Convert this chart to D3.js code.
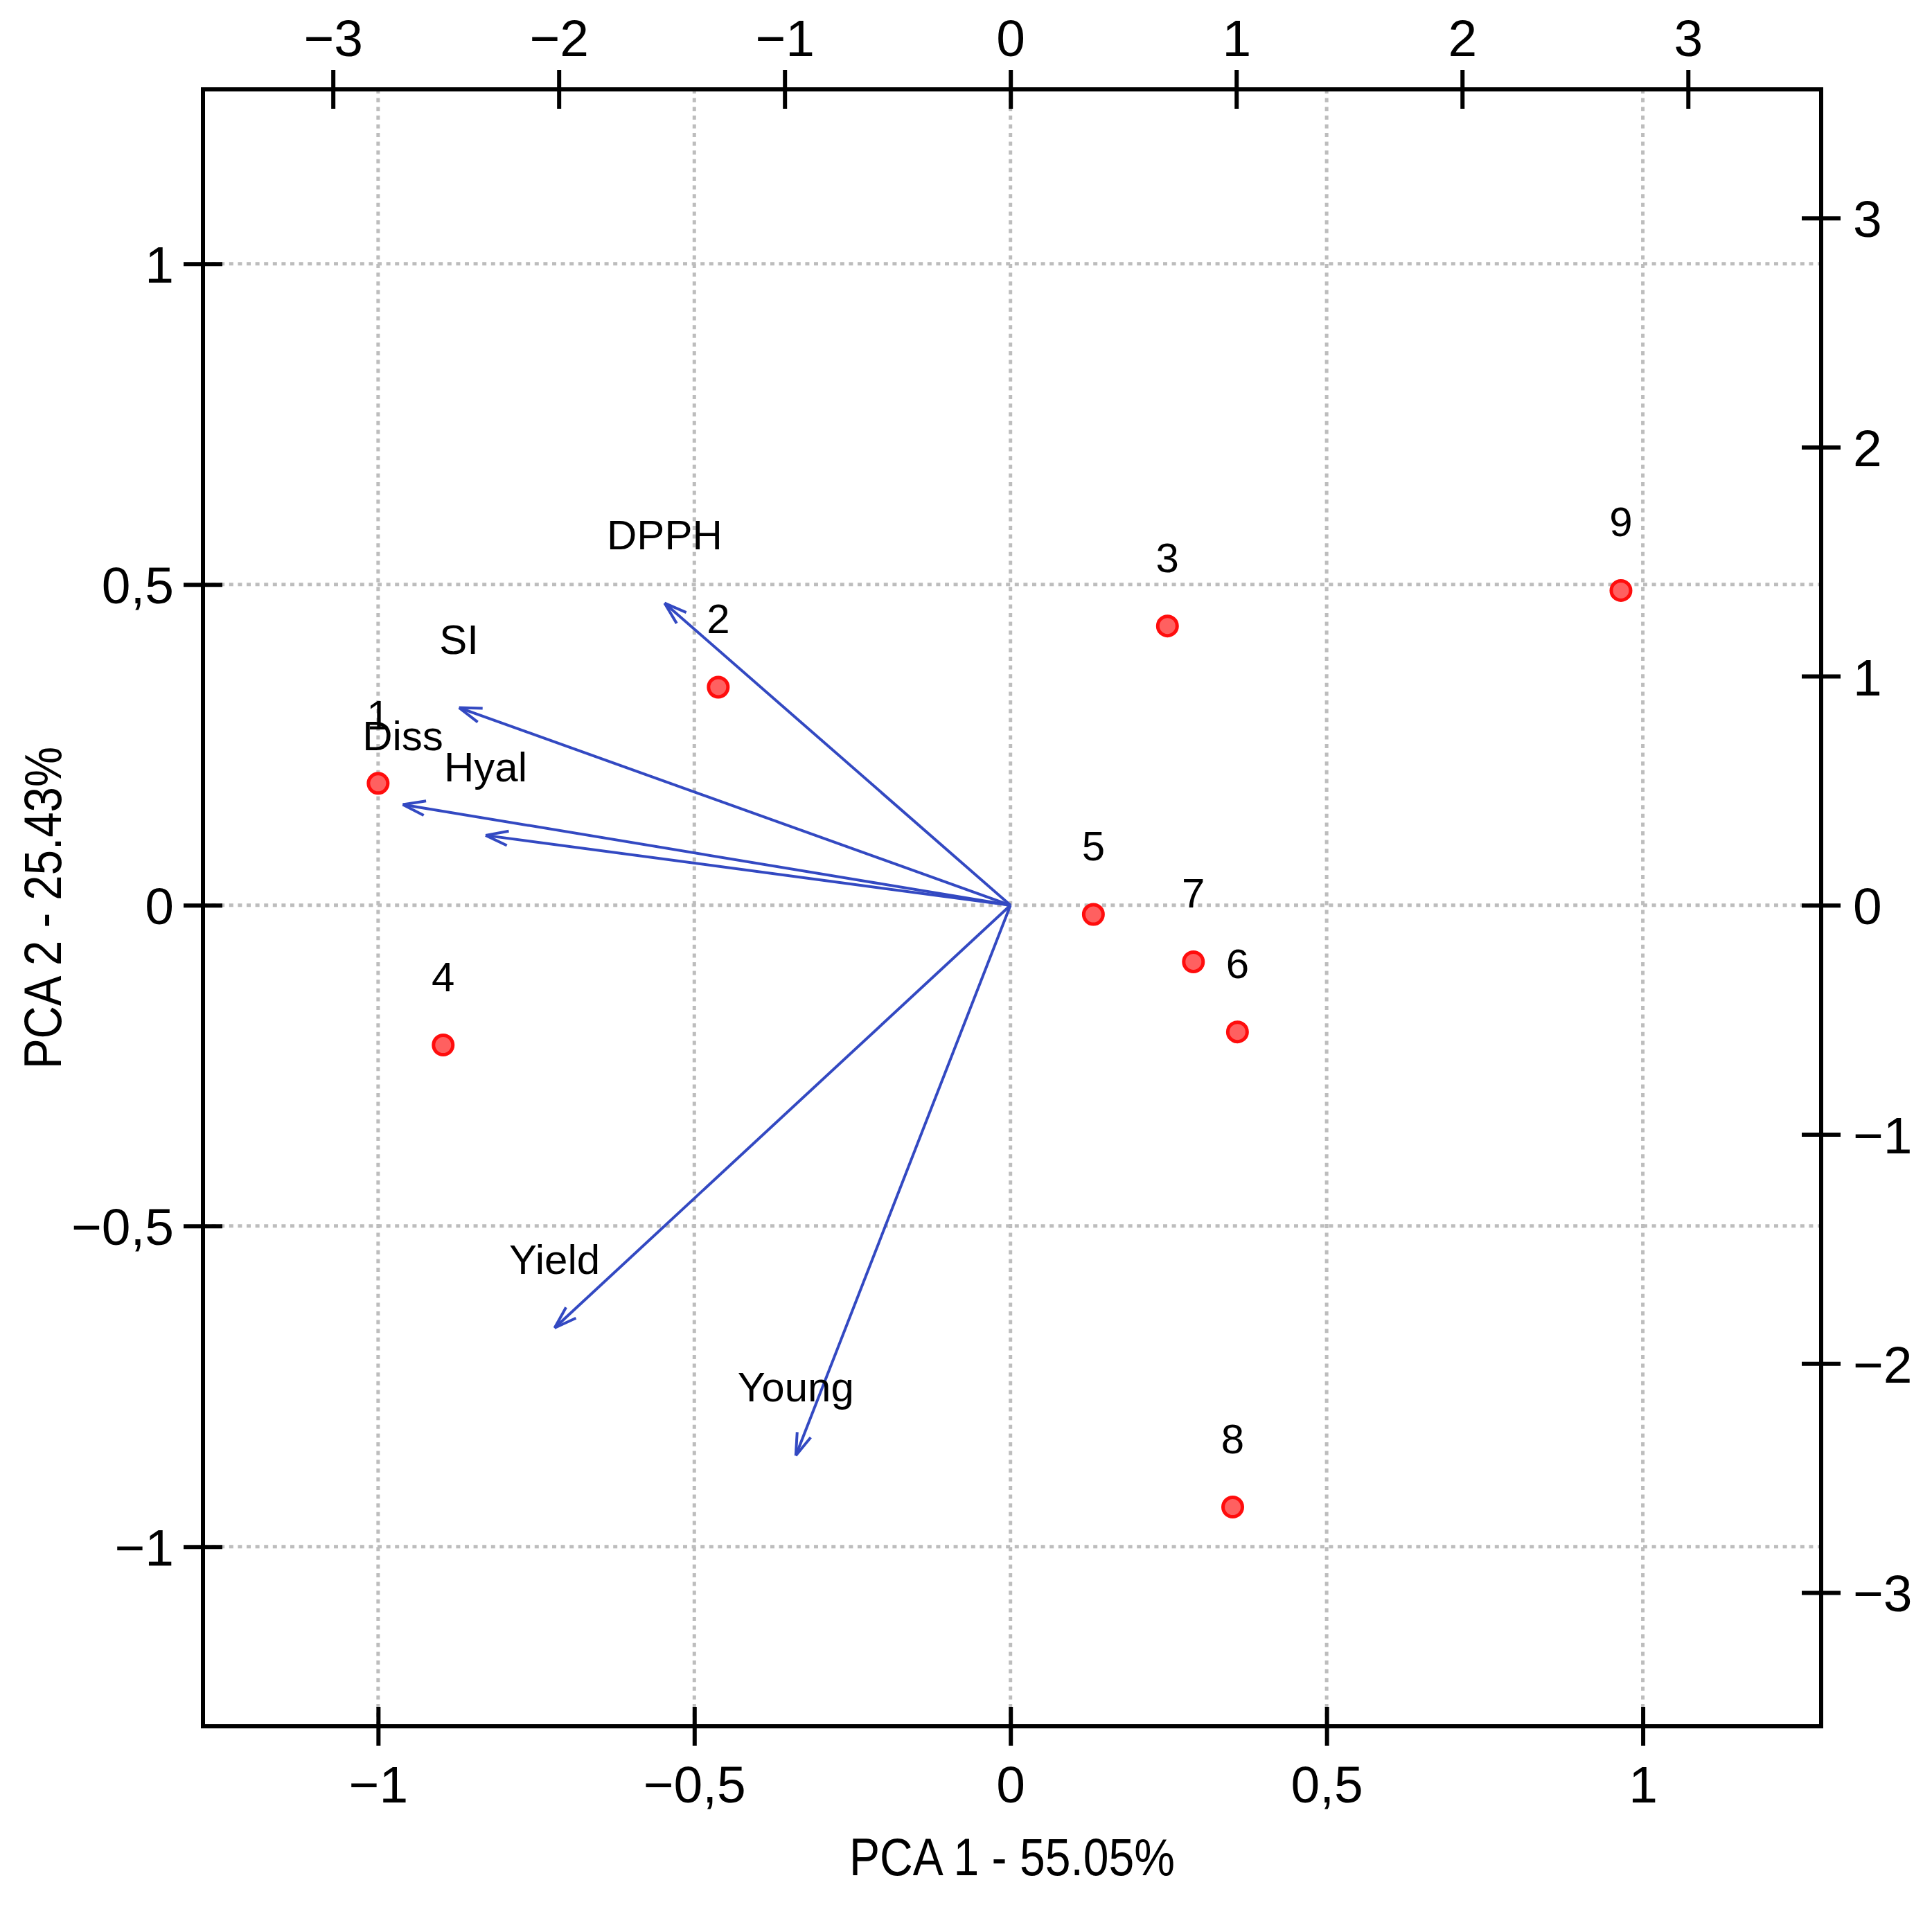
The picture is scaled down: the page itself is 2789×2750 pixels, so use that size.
<!DOCTYPE html>
<html>
  <head>
    <meta charset="utf-8">
    <style type="text/css">
      body {
        margin: 0;
        background: white;
      }
      svg {
        background-color: white;
        font-family: "Liberation Sans", Arial, sans-serif;
      }
      .grid line {
        stroke: #bdbdbd;
        stroke-width: 5px;
        stroke-dasharray: 6 6.6;
      }
      .axis text {
        font-size: 75px;
        fill: black;
      }
      .axis line {
        stroke: black;
        stroke-width: 6px;
      }
    </style>
  </head>
  <body>
    <script src="https://cdn.jsdelivr.net/npm/d3@7"></script>
    <svg id="chart"></svg>

    <script type="text/javascript">
// observations (scores, read on top / right axes)
var obsLabels = ["1", "2", "3", "4", "5", "6", "7", "8", "9"];
var obsPC1 = [-2.80, -1.294, 0.695, -2.512, 0.367, 1.005, 0.810, 0.984, 2.703];
var obsPC2 = [0.532, 0.952, 1.219, -0.610, -0.040, -0.553, -0.247, -2.627, 1.374];

// variables (loadings, read on bottom / left axes)
var varNames = ["DPPH", "SI", "Diss", "Hyal", "Yield", "Young"];
var varPC1 = [-0.547, -0.872, -0.961, -0.830, -0.721, -0.3395];
var varPC2 = [0.471, 0.308, 0.157, 0.109, -0.659, -0.858];

var loadTicks = [-1, -0.5, 0, 0.5, 1];
var loadTickLabels = ["\u22121", "\u22120,5", "0", "0,5", "1"];
var scoreTicks = [-3, -2, -1, 0, 1, 2, 3];
var scoreTickLabels = ["\u22123", "\u22122", "\u22121", "0", "1", "2", "3"];

var xTitle = "PCA 1 - 55.05%";
var yTitle = "PCA 2 - 25.43%";

var width = 2789;
var height = 2750;
var box = { left: 293, right: 2629, top: 129, bottom: 2492 };
var ratio = 2.8; // score axes / loading axes

var svg = d3.select("#chart")
  .attr("width", width)
  .attr("height", height);

var x = d3.scaleLinear().domain([-1.277, 1.282]).range([box.left, box.right]);
var y = d3.scaleLinear().domain([-1.280, 1.272]).range([box.bottom, box.top]);
var x2 = d3.scaleLinear().domain(x.domain().map(function(d) { return d * ratio; })).range(x.range());
var y2 = d3.scaleLinear().domain(y.domain().map(function(d) { return d * ratio; })).range(y.range());

// dotted grid
var grid = svg.append("g").attr("class", "grid");
grid.selectAll("line.v").data(loadTicks).enter().append("line")
  .attr("class", "v")
  .attr("x1", function(d) { return x(d); })
  .attr("x2", function(d) { return x(d); })
  .attr("y1", box.top)
  .attr("y2", box.bottom);
grid.selectAll("line.h").data(loadTicks).enter().append("line")
  .attr("class", "h")
  .attr("y1", function(d) { return y(d); })
  .attr("y2", function(d) { return y(d); })
  .attr("x1", box.left)
  .attr("x2", box.right);

// arrows
var arrowColor = "#3349c2";
var headLen = 34, headAng = 18 * Math.PI / 180;
var vars = varNames.map(function(n, i) { return { name: n, a: varPC1[i], b: varPC2[i] }; });
var arrows = svg.append("g")
  .style("stroke", arrowColor)
  .style("stroke-width", 4)
  .style("fill", "none");

vars.forEach(function(v) {
  var x0 = x(0), y0 = y(0), x1 = x(v.a), y1 = y(v.b);
  var ang = Math.atan2(y1 - y0, x1 - x0);
  arrows.append("line")
    .attr("x1", x0).attr("y1", y0)
    .attr("x2", x1).attr("y2", y1);
  [-headAng, headAng].forEach(function(da) {
    arrows.append("line")
      .attr("x1", x1).attr("y1", y1)
      .attr("x2", x1 - headLen * Math.cos(ang + da))
      .attr("y2", y1 - headLen * Math.sin(ang + da));
  });
});

svg.append("g").selectAll("text").data(vars).enter().append("text")
  .attr("x", function(d) { return x(d.a); })
  .attr("y", function(d) { return y(d.b) - 78; })
  .attr("text-anchor", "middle")
  .style("font-size", "60px")
  .text(function(d) { return d.name; });

// observations
var obs = obsLabels.map(function(l, i) { return { label: l, a: obsPC1[i], b: obsPC2[i] }; });
svg.append("g").selectAll("circle").data(obs).enter().append("circle")
  .attr("cx", function(d) { return x2(d.a); })
  .attr("cy", function(d) { return y2(d.b); })
  .attr("r", 14)
  .style("fill", "#ff6060")
  .style("stroke", "#ff0d0d")
  .style("stroke-width", 5);

svg.append("g").selectAll("text").data(obs).enter().append("text")
  .attr("x", function(d) { return x2(d.a); })
  .attr("y", function(d) { return y2(d.b) - 78; })
  .attr("text-anchor", "middle")
  .style("font-size", "60px")
  .text(function(d) { return d.label; });

// frame
svg.append("rect")
  .attr("x", box.left)
  .attr("y", box.top)
  .attr("width", box.right - box.left)
  .attr("height", box.bottom - box.top)
  .style("fill", "none")
  .style("stroke", "black")
  .style("stroke-width", 6);

// axes
var tick = 28;
function fmt(ticks, labels) {
  return function(d) { return labels[ticks.indexOf(d)]; };
}

var axBottom = svg.append("g").attr("class", "axis")
  .attr("transform", "translate(0," + box.bottom + ")")
  .call(d3.axisBottom(x).tickValues(loadTicks).tickFormat(fmt(loadTicks, loadTickLabels)).tickSize(tick).tickSizeOuter(0));
axBottom.selectAll(".tick line").attr("y1", -tick);
axBottom.selectAll(".tick text").attr("y", 110).attr("dy", 0);

var axTop = svg.append("g").attr("class", "axis")
  .attr("transform", "translate(0," + box.top + ")")
  .call(d3.axisTop(x2).tickValues(scoreTicks).tickFormat(fmt(scoreTicks, scoreTickLabels)).tickSize(tick).tickSizeOuter(0));
axTop.selectAll(".tick line").attr("y1", tick);
axTop.selectAll(".tick text").attr("y", -48).attr("dy", 0);

var axLeft = svg.append("g").attr("class", "axis")
  .attr("transform", "translate(" + box.left + ",0)")
  .call(d3.axisLeft(y).tickValues(loadTicks).tickFormat(fmt(loadTicks, loadTickLabels)).tickSize(tick).tickSizeOuter(0));
axLeft.selectAll(".tick line").attr("x1", tick);
axLeft.selectAll(".tick text").attr("x", -42).attr("dy", 27);

var axRight = svg.append("g").attr("class", "axis")
  .attr("transform", "translate(" + box.right + ",0)")
  .call(d3.axisRight(y2).tickValues(scoreTicks).tickFormat(fmt(scoreTicks, scoreTickLabels)).tickSize(tick).tickSizeOuter(0));
axRight.selectAll(".tick line").attr("x1", -tick);
axRight.selectAll(".tick text").attr("x", 46).attr("dy", 27);

svg.selectAll(".axis .domain").remove();
svg.selectAll(".axis").attr("font-family", null).attr("font-size", null);

// titles
svg.append("text")
  .attr("x", (box.left + box.right) / 2)
  .attr("y", 2707)
  .attr("text-anchor", "middle")
  .attr("textLength", 470)
  .attr("lengthAdjust", "spacingAndGlyphs")
  .style("font-size", "76px")
  .text(xTitle);

svg.append("text")
  .attr("transform", "translate(88," + (box.top + box.bottom) / 2 + ") rotate(-90)")
  .attr("text-anchor", "middle")
  .attr("textLength", 465)
  .attr("lengthAdjust", "spacingAndGlyphs")
  .style("font-size", "76px")
  .text(yTitle);
    </script>
  </body>
</html>
